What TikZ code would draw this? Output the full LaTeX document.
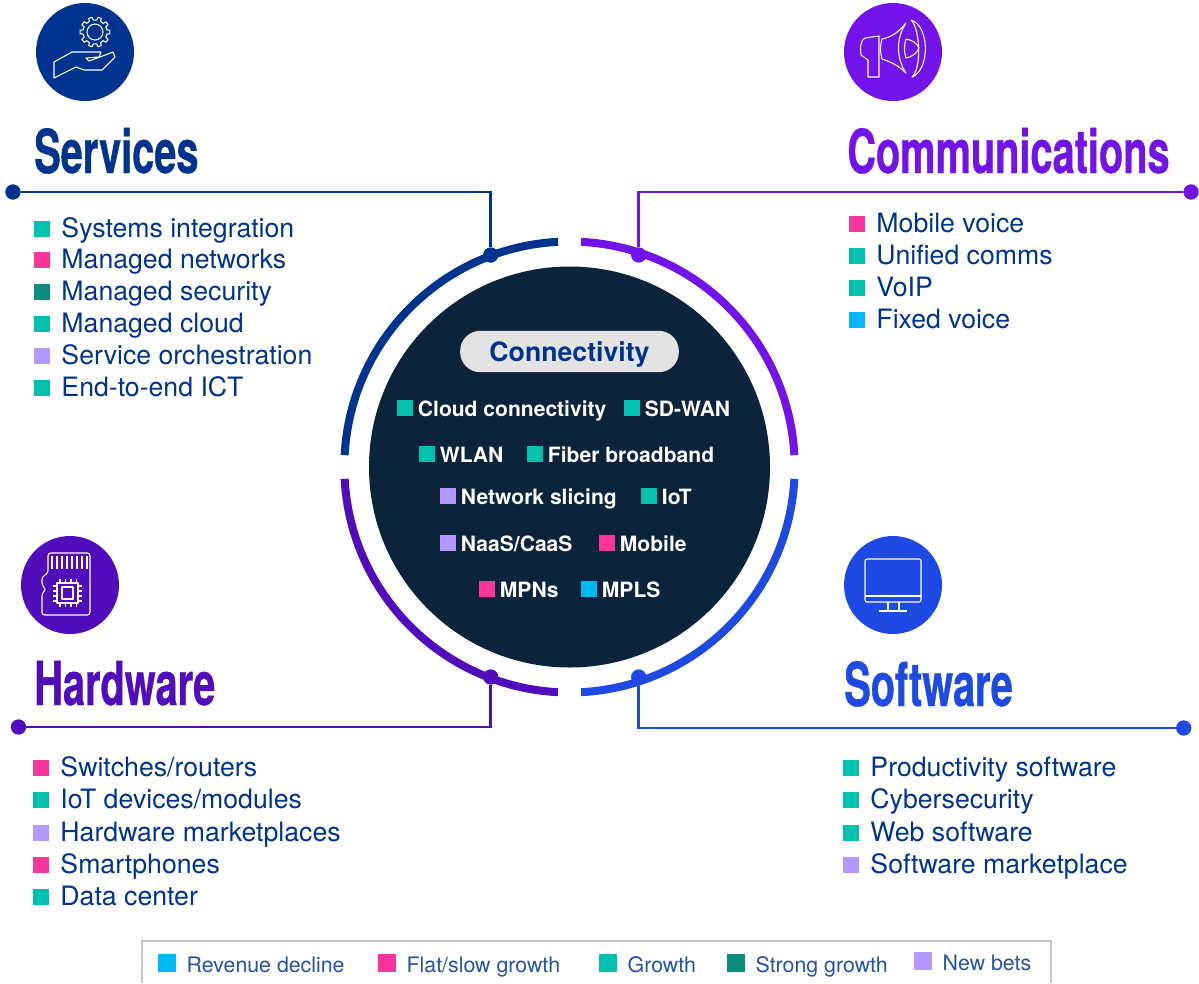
\documentclass[tikz,border=0pt]{standalone}
\usepackage{fontspec}
\setmainfont{TeX Gyre Heros}
\newfontfamily\titlefont[FakeStretch=0.655,BoldFeatures={FakeBold=0.6}]{TeX Gyre Heros}
\usetikzlibrary{calc,positioning}
\definecolor{navy}{HTML}{00338D}
\definecolor{purple}{HTML}{7213EA}
\definecolor{violet}{HTML}{510DBC}
\definecolor{azure}{HTML}{1E49E2}
\definecolor{darkblue}{HTML}{0C233C}
\definecolor{growth}{HTML}{00C0AE}
\definecolor{flat}{HTML}{FD349C}
\definecolor{strong}{HTML}{098E7E}
\definecolor{newbets}{HTML}{B497FF}
\definecolor{decline}{HTML}{00B8F5}
\tikzset{
  sq/.style={rectangle,inner sep=0pt,minimum size=12pt},
  legsq/.style={rectangle,inner sep=0pt,minimum size=13.5pt},
  itemtext/.style={inner sep=0pt,text=navy,font=\fontsize{20}{22}\selectfont,text height=12.8pt,text depth=0pt},
  coretext/.style={inner sep=0pt,text=white,font=\fontsize{15.8}{18}\selectfont\bfseries,text height=12.9pt,text depth=0pt},
  legtext/.style={inner sep=0pt,text=navy!85,font=\fontsize{16}{18}\selectfont,text height=14.2pt,text depth=0pt},
  headtext/.style={inner sep=0pt,anchor=base west,font=\titlefont\bfseries\fontsize{45.5}{50}\selectfont},
  iconbg/.style={circle,inner sep=0pt,minimum size=73.5pt},
  iconline/.style={draw=white,line width=.8pt,line join=round},
  ring/.style={line width=6pt},
  leader/.style={line width=2.1pt},
  dot/.style={circle,inner sep=0pt,minimum size=11.5pt}
}
\begin{document}
\begin{tikzpicture}[x=.75pt,y=-.75pt]
\useasboundingbox (0,0) rectangle (1199,983);
\coordinate (ctr) at (569.5,467);
% center
\node[circle,fill=darkblue,inner sep=0pt,minimum size=300.75pt] (core) at (ctr) {};
\node[rectangle,rounded corners=15pt,fill=black!11,inner sep=0pt,minimum width=164pt,minimum height=31pt,text=navy,font=\fontsize{20}{24}\selectfont\bfseries,text height=14.4pt,text depth=0pt] (conn) at (569.5,351.5) {Connectivity};
% ring
\draw[ring,navy] ($(ctr)+(-11.5,-225.2)$) arc[start angle=93,end angle=177,radius=169.1pt];
\draw[ring,purple] ($(ctr)+(11.5,-225.2)$) arc[start angle=87,end angle=3,radius=169.1pt];
\draw[ring,violet] ($(ctr)+(-11.5,225.2)$) arc[start angle=267,end angle=183,radius=169.1pt];
\draw[ring,azure] ($(ctr)+(11.5,225.2)$) arc[start angle=273,end angle=357,radius=169.1pt];
% leaders
\node[dot,fill=navy] (svA) at (13,192) {};
\node[dot,fill=navy] (svB) at (490.7,255) {};
\draw[leader,navy] (svA) -- (490.7,192) -- (svB);
\node[dot,fill=purple] (cmA) at (1191,192) {};
\node[dot,fill=purple] (cmB) at (638.7,255) {};
\draw[leader,purple] (cmA) -- (638.7,192) -- (cmB);
\node[dot,fill=violet] (hwA) at (18.5,727) {};
\node[dot,fill=violet] (hwB) at (490.7,677) {};
\draw[leader,violet] (hwA) -- (490.7,727) -- (hwB);
\node[dot,fill=azure] (swA) at (1183.7,728) {};
\node[dot,fill=azure] (swB) at (638.7,677) {};
\draw[leader,azure] (swA) -- (638.7,728) -- (swB);
% headings
\node[headtext,text=navy] (svhead) at (34,173) {Services};
\node[headtext,text=purple] (cmhead) at (847,173) {Communications};
\node[headtext,text=violet] (hwhead) at (34,705) {Hardware};
\node[headtext,text=azure] (swhead) at (844,706) {Software};
% icon services
\node[iconbg,fill=navy] (svicon) at (85,52) {};
\draw[iconline] (95,32) circle (6pt);
\draw[iconline] ($(95,32)+(-10:12)$) \foreach \a in {0,36,...,324} {
  -- ($(95,32)+(\a-10:12)$) -- ($(95,32)+(\a-7:15)$) -- ($(95,32)+(\a+7:15)$) -- ($(95,32)+(\a+10:12)$)
  } -- cycle;
\draw[iconline] (54,62) -- (54,78) -- (76,67) -- (84,70) -- (102,70) -- (115,57) -- (113,52) -- (100,57) -- (89,61) -- (86,58) -- (99,57) -- (101,52) -- (72,52) -- cycle;
% icon communications
\node[iconbg,fill=purple] (cmicon) at (893,52) {};
\draw[iconline] (879,36) -- (865,38) .. controls (860,40) and (860,50) .. (861,55) -- (868,60) -- (868,77) -- (879,77) -- cycle;
\draw[iconline] (882,39) .. controls (892,37) and (900,31) .. (906,23) .. controls (896,38) and (896,58) .. (906,73) .. controls (900,67) and (892,62) .. (882,59) .. controls (880,52) and (880,45) .. (882,39);
\draw[iconline] (906,39) .. controls (912,40) and (917,43) .. (919,48) .. controls (917,53) and (912,57) .. (906,58) .. controls (904,52) and (904,45) .. (906,39);
\draw[iconline] (911,20) .. controls (920,28) and (922,68) .. (912,77);
\draw[iconline] (911,20) .. controls (930,26) and (930,70) .. (912,77);
% icon hardware
\node[iconbg,fill=violet] (hwicon) at (70,585) {};
\draw[iconline,rounded corners=2pt] (48,553) -- (90,553) -- (90,615) -- (42,615) -- (42,593) -- (46,590) -- (42,585) -- (42,577) -- (48,573) -- cycle;
\foreach \x in {52,57,...,87} \draw[iconline] (\x,556) -- (\x,569);
\draw[iconline] (57,583) rectangle (78,603);
\draw[iconline] (62,587) rectangle (73,599);
\foreach \x in {60,65.5,71,76.5} \draw[iconline] (\x,579) -- (\x,583) (\x,603) -- (\x,607);
\foreach \y in {586,591,596,601} \draw[iconline] (53,\y) -- (57,\y) (78,\y) -- (82,\y);
% icon software
\node[iconbg,fill=azure] (swicon) at (893,585) {};
\draw[iconline,rounded corners=1.5pt] (865,559) rectangle (921,602);
\draw[iconline] (865,596) -- (921,596) (888,602) -- (888,611) (899,602) -- (899,611) (879,611) -- (907,611);
% lists
\foreach \n/\x/\y/\c/\t in {
  sa/42/229/growth/Systems integration,sb/42/260/flat/Managed networks,sc/42/292/strong/Managed security,
  sd/42/324/growth/Managed cloud,se/42/356/newbets/Service orchestration,sf/42/388/growth/End-to-end ICT,
  ca/857/224/flat/Mobile voice,cb/857/256/growth/Unified comms,cc/857/288/growth/VoIP,cd/857/320/decline/Fixed voice,
  ha/41/768/flat/{Switches/routers},hb/41/800/growth/{IoT devices/modules},hc/41/833/newbets/Hardware marketplaces,
  hd/41/865/flat/Smartphones,he/41/897/growth/Data center,
  wa/851/768/growth/Productivity software,wb/851/800/growth/Cybersecurity,wc/851/833/growth/Web software,wd/851/865/newbets/Software marketplace}
{
  \node[sq,fill=\c] (\n) at (\x,\y) {};
  \node[itemtext,right=8.2pt of \n] (\n t) {\t};
}
% connectivity items
\foreach \n/\x/\y/\c/\t in {
  ka/405/408/growth/Cloud connectivity,kb/632/408/growth/SD-WAN,
  kc/427/454/growth/WLAN,kd/535/454/growth/Fiber broadband,
  ke/448/496/newbets/Network slicing,kf/649/496/growth/IoT,
  kg/448/543/newbets/{NaaS/CaaS},kh/607/543/flat/Mobile,
  ki/487/589/flat/MPNs,kj/589/589/decline/MPLS}
{
  \node[sq,fill=\c] (\n) at (\x,\y) {};
  \node[coretext,right=3.3pt of \n] (\n t) {\t};
}
% legend
\draw[black!22,line width=1pt] (142,983) |- (1051,941) -- (1051,983);
\foreach \n/\x/\y/\c/\t in {
  la/167/963/decline/Revenue decline,lb/387/963/flat/{Flat/slow growth},lc/608/963/growth/Growth,
  ld/736/963/strong/Strong growth,le/923/961/newbets/New bets}
{
  \node[legsq,fill=\c] (\n) at (\x,\y) {};
  \node[legtext,right=7.6pt of \n] (\n t) {\t};
}
\end{tikzpicture}
\end{document}
